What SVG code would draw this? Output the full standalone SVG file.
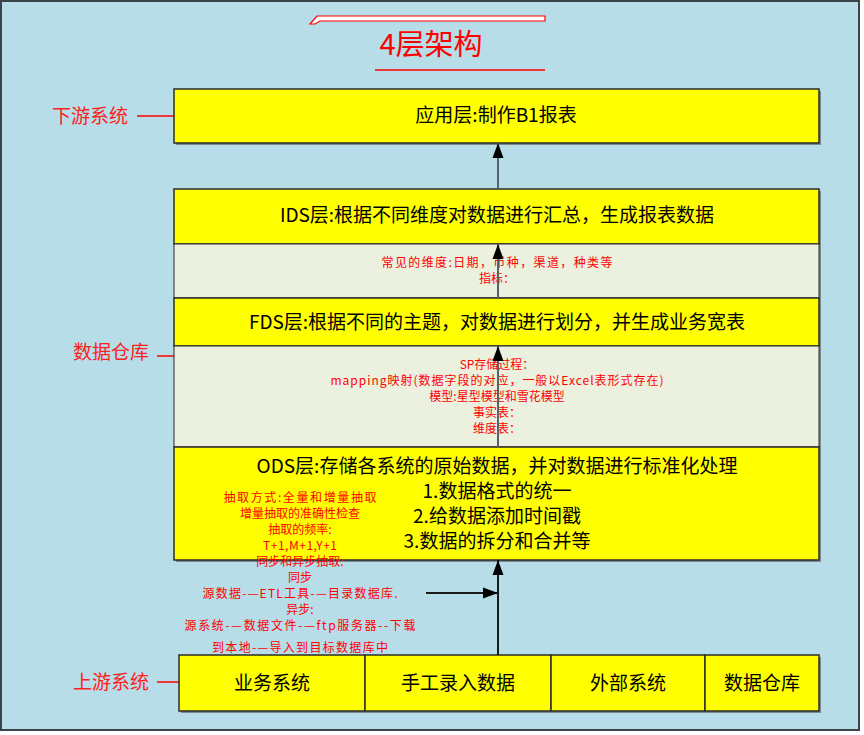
<svg xmlns="http://www.w3.org/2000/svg" width="864" height="735" viewBox="0 0 864 735">
<defs>
<marker id="ah" markerUnits="userSpaceOnUse" markerWidth="16" markerHeight="12" refX="15" refY="6" orient="auto">
<path d="M0,0.5 L15,6 L0,11.5 z" fill="#000"/>
</marker>
<style>
.bg{fill:#B7DDE8;stroke:#3a4448;stroke-width:2}
.box{fill:#FFFF00;stroke:#2b2b2b;stroke-width:1.5}
.band{fill:#EBF1DE;stroke:#2b2b2b;stroke-width:1}
.shadow{fill:#7d8a8e}
.t{font-family:"Noto Sans CJK SC","Noto Sans",sans-serif;text-anchor:middle;fill:#000;font-size:19px}
.r{font-family:"Noto Sans CJK SC","Noto Sans",sans-serif;text-anchor:middle;fill:#FF0000;font-size:12px}
.lab{font-family:"Noto Sans CJK SC","Noto Sans",sans-serif;text-anchor:middle;fill:#FF2020;font-size:19px}
.rl{stroke:#FF0000;stroke-width:1.5;fill:none}
.c{stroke:#56646a;stroke-width:2;fill:none;marker-end:url(#ah)}
</style>
</defs>
<rect class="bg" x="1" y="1" width="858" height="729"/>

<g id="title">
<polygon points="310,24 317,16 545,16 545,21 320,21 315,24" fill="#fff" stroke="#FF0000" stroke-width="1.2"/>
<text x="431" y="55" font-family="'Noto Sans CJK SC','Noto Sans',sans-serif" font-size="29" fill="#FF0000" text-anchor="middle">4层架构</text>
<line class="rl" x1="375" y1="70" x2="545" y2="70"/>
</g>

<g id="label-downstream">
<text class="lab" x="90" y="123">下游系统</text>
<line class="rl" x1="137" y1="116" x2="174" y2="116"/>
</g>
<g id="label-dw">
<text class="lab" x="111" y="359">数据仓库</text>
<line class="rl" x1="157" y1="356" x2="174" y2="356"/>
</g>
<g id="label-upstream">
<text class="lab" x="111" y="689">上游系统</text>
<line class="rl" x1="157" y1="682" x2="179" y2="682"/>
</g>

<g id="app">
<rect class="shadow" x="176" y="91" width="645" height="54"/>
<rect class="box" x="174" y="89" width="645" height="54"/>
<text class="t" x="496" y="122">应用层:制作B1报表</text>
</g>

<g id="dw-stack">
<rect class="shadow" x="176" y="191" width="645" height="371"/>
</g>
<g id="ids">
<rect class="box" x="174" y="189" width="645" height="55"/>
<text class="t" x="497" y="222">IDS层:根据不同维度对数据进行汇总，生成报表数据</text>
</g>
<g id="ids-note">
<rect class="band" x="174" y="244" width="645" height="54"/>
<text class="r" x="497" y="267" textLength="231" lengthAdjust="spacing">常见的维度:日期，币种，渠道，种类等</text>
<text class="r" x="497" y="283">指标：</text>
</g>
<g id="fds">
<rect class="box" x="174" y="298" width="645" height="48"/>
<text class="t" x="497" y="329">FDS层:根据不同的主题，对数据进行划分，并生成业务宽表</text>
</g>
<g id="fds-note">
<rect class="band" x="174" y="346" width="645" height="101"/>
<text class="r" x="497" y="369">SP存储过程：</text>
<text class="r" x="497" y="385" textLength="333" lengthAdjust="spacing">mapping映射(数据字段的对应，一般以Excel表形式存在)</text>
<text class="r" x="497" y="401">模型:星型模型和雪花模型</text>
<text class="r" x="497" y="417">事实表：</text>
<text class="r" x="497" y="433">维度表：</text>
</g>
<g id="ods">
<rect class="box" x="174" y="447" width="645" height="113"/>
<text class="t" x="497" y="473">ODS层:存储各系统的原始数据，并对数据进行标准化处理</text>
<text class="t" x="497" y="498">1.数据格式的统一</text>
<text class="t" x="497" y="523">2.给数据添加时间戳</text>
<text class="t" x="497" y="548">3.数据的拆分和合并等</text>
</g>

<g id="extract-note">
<text class="r" x="300" y="502" textLength="153" lengthAdjust="spacing">抽取方式:全量和增量抽取</text>
<text class="r" x="300" y="518">增量抽取的准确性检查</text>
<text class="r" x="300" y="534">抽取的频率:</text>
<text class="r" x="300" y="550" textLength="74" lengthAdjust="spacing">T+1,M+1,Y+1</text>
<text class="r" x="300" y="566">同步和异步抽取:</text>
<text class="r" x="300" y="582">同步</text>
<text class="r" x="300" y="598" textLength="195" lengthAdjust="spacing">源数据-—ETL工具-—目录数据库.</text>
<text class="r" x="300" y="614">异步:</text>
<text class="r" x="300" y="630" textLength="231" lengthAdjust="spacing">源系统-—数据文件-—ftp服务器--下载</text>
<text class="r" x="300" y="652" textLength="176" lengthAdjust="spacing">到本地-—导入到目标数据库中</text>
</g>

<g id="sources">
<rect class="shadow" x="181" y="657" width="640" height="56"/>
<g id="src-business">
<rect class="box" x="179" y="655" width="186" height="56"/>
<text class="t" x="272" y="690">业务系统</text>
</g>
<g id="src-manual">
<rect class="box" x="365" y="655" width="186" height="56"/>
<text class="t" x="458" y="690">手工录入数据</text>
</g>
<g id="src-external">
<rect class="box" x="551" y="655" width="154" height="56"/>
<text class="t" x="628" y="690">外部系统</text>
</g>
<g id="src-dw">
<rect class="box" x="705" y="655" width="114" height="56"/>
<text class="t" x="762" y="690">数据仓库</text>
</g>
</g>

<g id="connectors">
<line class="c" x1="498" y1="189" x2="498" y2="143"/>
<line class="c" x1="498" y1="298" x2="498" y2="244"/>
<line class="c" x1="498" y1="447" x2="498" y2="346"/>
<line class="c" x1="498" y1="655" x2="498" y2="560" style="stroke:#1a1a1a"/>
<line class="c" x1="426" y1="593" x2="498" y2="593" style="stroke:#1a1a1a"/>
</g>
</svg>
